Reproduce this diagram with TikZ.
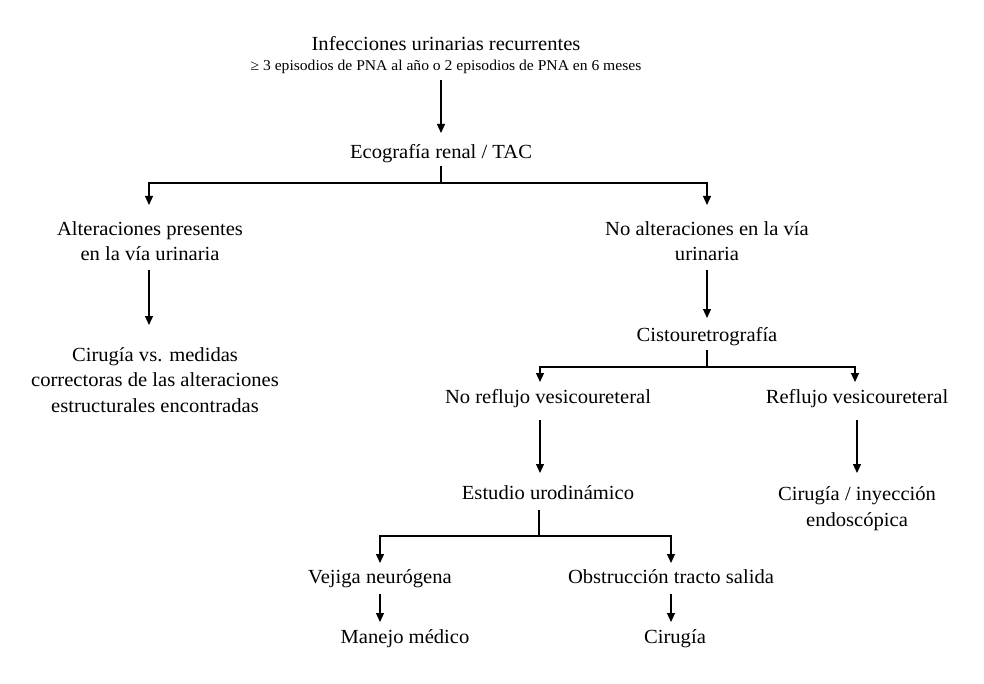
\documentclass[tikz,border=0pt]{standalone}
\usepackage{fontspec}
\setmainfont[FakeStretch=1.03]{Liberation Serif}
\newfontfamily\smallserif[FakeStretch=1.04]{Liberation Serif}
\usetikzlibrary{arrows.meta}
\begin{document}
\begin{tikzpicture}[x=1pt,y=-1pt,
  txt/.style={align=center,inner sep=0pt,font=\fontsize{20}{25.5}\selectfont},
  small/.style={inner sep=0pt,font=\smallserif\fontsize{15}{17}\selectfont},
  ln/.style={line width=1.2pt},
  arr/.style={ln,-{Triangle[width=8pt,length=9pt]}}]
\useasboundingbox (0,0) rectangle (984,684);
\fill[white] (0,0) rectangle (984,684);
% nodes
\node[txt] (title) at (446,44) {Infecciones urinarias recurrentes};
\node[small] (sub) at (446,67) {≥ 3 episodios de PNA al año o 2 episodios de PNA en 6 meses};
\node[txt] (eco) at (441,154) {Ecografía renal / TAC};
\node[txt] (alt) at (150,241) {Alteraciones presentes\\en la vía urinaria};
\node[txt] (cir) at (155,380) {Cirugía vs. medidas\\correctoras de las alteraciones\\estructurales encontradas};
\node[txt] (noalt) at (707,241) {No alteraciones en la vía\\urinaria};
\node[txt] (cisto) at (707,337) {Cistouretrografía};
\node[txt] (noref) at (548,399) {No reflujo vesicoureteral};
\node[txt] (ref) at (857,399) {Reflujo vesicoureteral};
\node[txt] (est) at (548,493) {Estudio urodinámico};
\node[txt] (cir2) at (857,508.5) {Cirugía / inyección\\endoscópica};
\node[txt] (vej) at (380,579) {Vejiga neurógena};
\node[txt] (obs) at (671,577) {Obstrucción tracto salida};
\node[txt] (man) at (405,639) {Manejo médico};
\node[txt] (cir3) at (675,639) {Cirugía};
% connector points
\coordinate (s1) at (441,80);  \coordinate (e1) at (441,133);
\coordinate (b1) at (441,166); \coordinate (h1) at (441,183);
\coordinate (h1l) at (149,183); \coordinate (h1r) at (707,183);
\coordinate (a1l) at (149,205); \coordinate (a1r) at (707,205);
\coordinate (s2) at (149,270); \coordinate (e2) at (149,325);
\coordinate (s3) at (707,270); \coordinate (e3) at (707,318);
\coordinate (b2) at (707,350); \coordinate (h2) at (707,367);
\coordinate (h2l) at (540,367); \coordinate (h2r) at (855,367);
\coordinate (a2l) at (540,382); \coordinate (a2r) at (855,382);
\coordinate (s4) at (540,420); \coordinate (e4) at (540,473);
\coordinate (s5) at (857,420); \coordinate (e5) at (857,473);
\coordinate (b3) at (539,510); \coordinate (h3) at (539,536);
\coordinate (h3l) at (380,536); \coordinate (h3r) at (671,536);
\coordinate (a3l) at (380,563); \coordinate (a3r) at (671,563);
\coordinate (s6) at (380,594); \coordinate (e6) at (380,622);
\coordinate (s7) at (671,594); \coordinate (e7) at (671,622);
% connectors
\draw[arr] (s1) -- (e1);
\draw[ln] (b1) -- (h1);
\draw[arr] (h1) -- (h1l) -- (a1l);
\draw[arr] (h1) -- (h1r) -- (a1r);
\draw[arr] (s2) -- (e2);
\draw[arr] (s3) -- (e3);
\draw[ln] (b2) -- (h2);
\draw[arr] (h2) -- (h2l) -- (a2l);
\draw[arr] (h2) -- (h2r) -- (a2r);
\draw[arr] (s4) -- (e4);
\draw[arr] (s5) -- (e5);
\draw[ln] (b3) -- (h3);
\draw[arr] (h3) -- (h3l) -- (a3l);
\draw[arr] (h3) -- (h3r) -- (a3r);
\draw[arr] (s6) -- (e6);
\draw[arr] (s7) -- (e7);
\end{tikzpicture}
\end{document}
